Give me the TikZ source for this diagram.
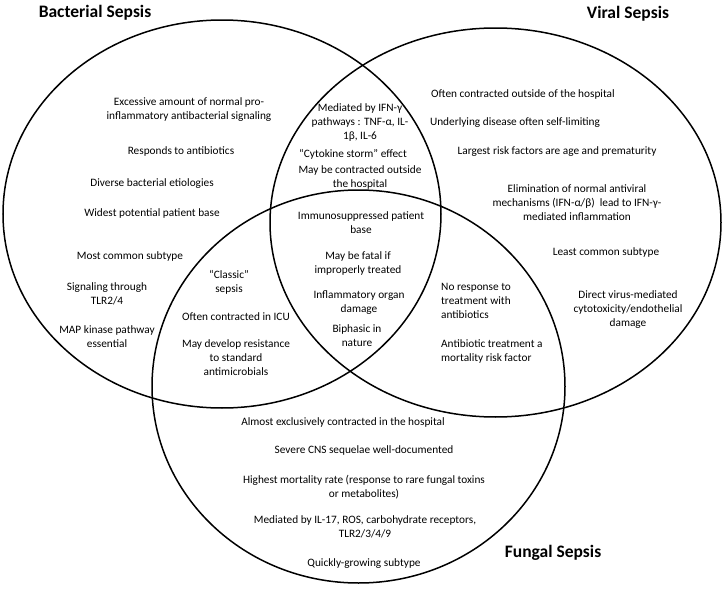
\documentclass[tikz,border=0pt]{standalone}
\usepackage{fontspec}
\setmainfont{Carlito}
\begin{document}
\begin{tikzpicture}[x=1pt,y=-1pt,
    txt/.style={align=center,inner sep=0pt,font=\fontsize{11.3}{14}\selectfont},
    ltxt/.style={align=left,anchor=west,inner sep=0pt,font=\fontsize{11.3}{14}\selectfont},
    title/.style={inner sep=0pt,font=\fontsize{17.5}{20}\selectfont\bfseries},
    set/.style={line width=1.5pt}]
        \useasboundingbox (0,0) rectangle (724,589);
        % the three sets
        \draw[set] (222,214) ellipse [x radius=219pt, y radius=194pt];
        \draw[set] (495.5,222.5) ellipse [x radius=225.5pt, y radius=194.5pt];
        \draw[set] (358.5,386.5) ellipse [x radius=206.5pt, y radius=196.5pt];

        \node[title] (bacterial) at (95,13) {Bacterial Sepsis};
        \node[title] (viral) at (628,14) {Viral Sepsis};
        \node[title] (fungal) at (553,553) {Fungal Sepsis};

        % bacterial only
        \node[txt] (b1) at (189,110) {Excessive amount of normal pro-\\inflammatory antibacterial signaling};
        \node[txt] (b2) at (181,151) {Responds to antibiotics};
        \node[txt] (b3) at (152,184) {Diverse bacterial etiologies};
        \node[txt] (b4) at (152,213) {Widest potential patient base};
        \node[txt] (b5) at (130,256) {Most common subtype};
        \node[txt] (b6) at (107,294) {Signaling through\\TLR2/4};
        \node[txt] (b7) at (107,337) {MAP kinase pathway\\essential};

        % bacterial and viral
        \node[txt] (bv1) at (360,123) {Mediated by IFN-γ\\pathways : TNF-α, IL-\\1β, IL-6};
        \node[txt] (bv2) at (353,154) {“Cytokine storm” effect};
        \node[txt] (bv3) at (360,177) {May be contracted outside\\the hospital};

        % all three
        \node[txt] (bvf1) at (361,223) {Immunosuppressed patient\\base};
        \node[txt] (bvf2) at (358,263) {May be fatal if\\improperly treated};
        \node[txt] (bvf3) at (359,303) {Inflammatory organ\\damage};
        \node[txt] (bvf4) at (357,336) {Biphasic in\\nature};

        % bacterial and fungal
        \node[txt] (bf1) at (229,282) {“Classic”\\sepsis};
        \node[txt] (bf2) at (236,317) {Often contracted in ICU};
        \node[txt] (bf3) at (236,358) {May develop resistance\\to standard\\antimicrobials};

        % viral only
        \node[txt] (v1) at (523,94) {Often contracted outside of the hospital};
        \node[txt] (v2) at (515,123) {Underlying disease often self-limiting};
        \node[txt] (v3) at (557,152) {Largest risk factors are age and prematurity};
        \node[txt] (v4) at (577,203) {Elimination of normal antiviral\\mechanisms (IFN-α/β)~ lead to IFN-γ-\\mediated inflammation};
        \node[txt] (v5) at (606,252) {Least common subtype};
        \node[txt] (v6) at (628,310) {Direct virus-mediated\\cytotoxicity/endothelial\\damage};

        % viral and fungal
        \node[ltxt] (vf1) at (441,301) {No response to\\treatment with\\antibiotics};
        \node[ltxt] (vf2) at (441,351) {Antibiotic treatment a\\mortality risk factor};

        % fungal only
        \node[txt] (f1) at (343,422) {Almost exclusively contracted in the hospital};
        \node[txt] (f2) at (364,450) {Severe CNS sequelae well-documented};
        \node[txt] (f3) at (364,487) {Highest mortality rate (response to rare fungal toxins\\or metabolites)};
        \node[txt] (f4) at (365,527) {Mediated by IL-17, ROS, carbohydrate receptors,\\TLR2/3/4/9};
        \node[txt] (f5) at (364,564) {Quickly-growing subtype};
    \end{tikzpicture}
\end{document}
